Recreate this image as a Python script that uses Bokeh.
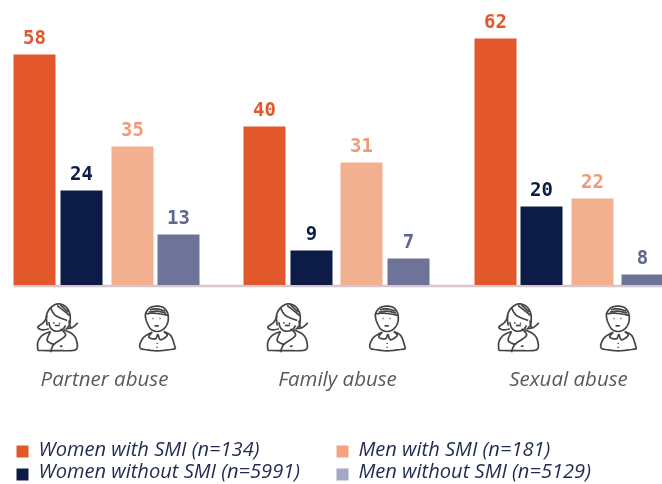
from bokeh.plotting import figure
from bokeh.models import Range1d
from bokeh.embed import file_html
from bokeh.resources import INLINE
from bokeh.core.properties import value

categories = ["Partner abuse", "Family abuse", "Sexual abuse"]
series_names = ["Women with SMI (n=134)", "Women without SMI (n=5991)",
                "Men with SMI (n=181)", "Men without SMI (n=5129)"]
women_smi = [58, 40, 62]
women_no_smi = [24, 9, 20]
men_smi = [35, 31, 22]
men_no_smi = [13, 7, 8]
# The last bar in the reference is drawn much shorter than its printed label of 8.
men_no_smi_heights = [13, 7, 3]

BAR_COLORS = ["#e2582c", "#0c1c47", "#f3b090", "#6e7399"]
LABEL_COLORS = ["#e2582c", "#0c1c47", "#f09a78", "#5f6690"]
LEGEND_COLORS = ["#e2582c", "#0c1c47", "#f4a27f", "#a3a6c4"]
BAR_CENTERS = [[34, 264, 495], [81, 311, 541], [132, 361, 592], [178, 408, 642]]
GROUP_SHIFT = [0, 230, 461]
BAR_W = 42
BASE_PX = 286
PX_PER_UNIT = 4

W, H = 662, 484
p = figure(width=W, height=H, output_backend="svg", toolbar_location=None,
           x_range=Range1d(0, W),
           y_range=Range1d((BASE_PX - H) / PX_PER_UNIT, BASE_PX / PX_PER_UNIT),
           min_border=0, min_border_left=0, min_border_right=0,
           min_border_top=0, min_border_bottom=0)
p.styles = {"position": "fixed", "left": "0px", "top": "0px"}
p.axis.visible = False
p.grid.visible = False
p.outline_line_color = None
p.background_fill_color = "#ffffff"


def Y(py):
    return (BASE_PX - py) / PX_PER_UNIT


# baseline
p.line([13, 662], [Y(285.5), Y(285.5)], line_color="#d8c6cf", line_width=2.5)

heights = [women_smi, women_no_smi, men_smi, men_no_smi_heights]
labels = [women_smi, women_no_smi, men_smi, men_no_smi]
for k in range(4):
    p.vbar(x=BAR_CENTERS[k], top=heights[k], bottom=Y(284.5), width=BAR_W,
           fill_color=BAR_COLORS[k], line_color=None)
    p.text(x=BAR_CENTERS[k], y=heights[k], text=[str(v) for v in labels[k]],
           y_offset=-18, text_align="center", text_baseline="middle",
           text_color=LABEL_COLORS[k], text_font_size="19px",
           text_font=value("DejaVu Sans Mono"), text_font_style="bold")


def smooth(pts, n=6):
    if len(pts) < 3:
        return pts
    out = []
    P = [pts[0]] + list(pts) + [pts[-1]]
    for i in range(1, len(P) - 2):
        for j in range(n):
            t = j / n
            a, b, c, d = P[i - 1], P[i], P[i + 1], P[i + 2]
            out.append(tuple(
                0.5 * (2 * b[m] + (c[m] - a[m]) * t
                       + (2 * a[m] - 5 * b[m] + 4 * c[m] - d[m]) * t * t
                       + (3 * b[m] - a[m] - 3 * c[m] + d[m]) * t ** 3)
                for m in (0, 1)))
    out.append(pts[-1])
    return out


WOMAN = [
    [(140, 165), (138, 135), (150, 112), (172, 100), (195, 108), (208, 130), (208, 160), (200, 172)],
    [(145, 155), (150, 172), (165, 182), (185, 178), (195, 165)],
    [(140, 135), (130, 155), (112, 170), (125, 178), (145, 175)],
    [(205, 150), (212, 172), (232, 157)],
    [(212, 172), (195, 175)],
    [(150, 112), (165, 135), (200, 150)],
    [(170, 105), (195, 125), (207, 135)],
    [(180, 103), (203, 125)],
    [(112, 240), (112, 215), (125, 195), (150, 183)],
    [(112, 240), (170, 240), (225, 238), (228, 210), (215, 190), (190, 178)],
    [(150, 183), (140, 210), (160, 222)],
    [(150, 245), (160, 222), (195, 195), (180, 175)],
    [(178, 228), (186, 226)],
    [(158, 157), (162, 157)],
    [(175, 159), (179, 159)],
    [(163, 165), (178, 165)],
]
MAN = [
    [(437, 150), (435, 130), (448, 112), (470, 107), (490, 112), (502, 130), (502, 155),
     (490, 175), (470, 183), (450, 175), (437, 150)],
    [(437, 130), (460, 128), (490, 132), (502, 135)],
    [(448, 118), (470, 115), (495, 122)],
    [(445, 125), (470, 122), (497, 128)],
    [(456, 144), (459, 144)],
    [(477, 144), (480, 144)],
    [(462, 166), (475, 166)],
    [(420, 235), (418, 222), (430, 200), (455, 185)],
    [(490, 183), (512, 197), (525, 235)],
    [(420, 235), (470, 241), (525, 235)],
    [(455, 185), (445, 200), (465, 205), (472, 192), (480, 208), (500, 195), (490, 183)],
    [(470, 217), (470, 220)],
    [(470, 229), (470, 232)],
]
xs, ys = [], []
for shift in GROUP_SHIFT:
    for icon in (WOMAN, MAN):
        for stroke in icon:
            s = smooth(stroke)
            xs.append([q[0] / 3 + shift for q in s])
            ys.append([Y(270 + q[1] / 3) for q in s])
p.multi_line(xs, ys, line_color="#444444", line_width=1.7)

# category labels
p.text(x=[104, 337, 568], y=[Y(377)] * 3, text=categories, text_align="center",
       text_baseline="middle", text_color="#5a5a5a", text_font_size="20.5px",
       text_font=value("Open Sans"), text_font_style="italic")

# legend
LEG_X = [22, 22, 342, 342]
LEG_Y = [451, 474, 451, 474]
TXT_Y = [448, 470, 448, 470]
p.rect(x=LEG_X, y=[Y(v) for v in LEG_Y], width=12, height=12 / PX_PER_UNIT,
       fill_color=LEGEND_COLORS, line_color=None)
p.text(x=[v + 16 for v in LEG_X], y=[Y(v) for v in TXT_Y], text=series_names,
       text_align="left", text_baseline="middle", text_color="#1f2b50",
       text_font_size="20.1px", text_font=value("Open Sans"), text_font_style="italic")

open("out.html", "w").write(file_html(p, INLINE))
